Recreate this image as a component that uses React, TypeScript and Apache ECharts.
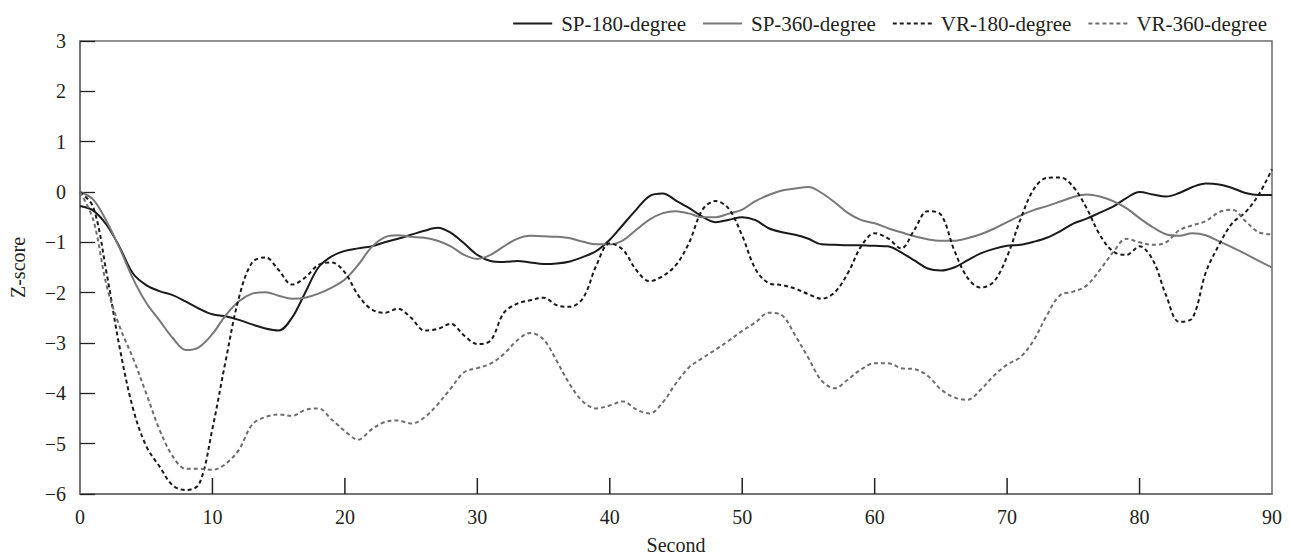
import React, { useEffect, useRef } from "react";
import * as echarts from "echarts";

const seconds: number[] = Array.from({ length: 91 }, (_, i) => i);
const xTickValues: number[] = [10, 20, 30, 40, 50, 60, 70, 80];

const sp180: number[] = [
  -0.28, -0.37, -0.65, -1.1, -1.62, -1.85, -1.97, -2.05, -2.18, -2.32,
  -2.43, -2.47, -2.54, -2.63, -2.71, -2.75, -2.5, -2.0, -1.5, -1.28,
  -1.17, -1.12, -1.08, -1.0, -0.93, -0.85, -0.77, -0.71, -0.81, -1.02,
  -1.25, -1.37, -1.39, -1.37, -1.4, -1.43, -1.42, -1.38, -1.29, -1.17,
  -0.95, -0.65, -0.35, -0.08, -0.03, -0.17, -0.32, -0.49, -0.6, -0.55,
  -0.5, -0.56, -0.72, -0.8, -0.85, -0.93, -1.04, -1.05, -1.06, -1.06,
  -1.07, -1.08, -1.2, -1.36, -1.52, -1.56, -1.5, -1.36, -1.22, -1.13,
  -1.07, -1.05, -0.99, -0.91, -0.78, -0.63, -0.53, -0.41, -0.29, -0.12,
  0.0, -0.05, -0.09, -0.02, 0.1, 0.17, 0.15, 0.08, -0.02, -0.06, -0.06,
];

const sp360: number[] = [
  0, -0.15, -0.58, -1.12, -1.72, -2.2, -2.55, -2.9, -3.14, -3.08,
  -2.82, -2.45, -2.17, -2.02, -1.99, -2.06, -2.12, -2.1, -2.02, -1.9,
  -1.74, -1.45, -1.1, -0.9, -0.86, -0.89, -0.91, -0.97, -1.08, -1.25,
  -1.33, -1.25, -1.08, -0.93, -0.87, -0.88, -0.89, -0.92, -0.99, -1.04,
  -1.04, -0.96, -0.75, -0.55, -0.42, -0.38, -0.43, -0.5, -0.5, -0.43,
  -0.35, -0.18, -0.06, 0.03, 0.07, 0.1, -0.02, -0.21, -0.42, -0.56,
  -0.62, -0.72, -0.8, -0.88, -0.94, -0.97, -0.97, -0.92, -0.84, -0.73,
  -0.6, -0.47, -0.36, -0.28, -0.19, -0.1, -0.05, -0.09, -0.18, -0.32,
  -0.52, -0.7, -0.84, -0.87, -0.82, -0.86, -0.98, -1.1, -1.23, -1.37, -1.5,
];

const vr180: number[] = [
  0, -0.3, -1.6, -3.1, -4.3, -5.05, -5.45, -5.83, -5.92, -5.8,
  -4.7, -3.35, -2.1, -1.4, -1.3, -1.55, -1.84, -1.7, -1.45, -1.4,
  -1.6, -2.05, -2.33, -2.4, -2.32, -2.5, -2.75, -2.72, -2.62, -2.85,
  -3.02, -2.95, -2.4, -2.22, -2.15, -2.1, -2.25, -2.28, -2.1, -1.45,
  -1.02, -1.15, -1.55, -1.77, -1.67, -1.45, -1.0, -0.35, -0.18, -0.34,
  -0.87, -1.53, -1.81, -1.85, -1.92, -2.03, -2.12, -1.99, -1.6, -1.07,
  -0.82, -0.92, -1.12, -0.75, -0.38, -0.45, -1.15, -1.7, -1.9, -1.78,
  -1.28, -0.55, 0.05, 0.28, 0.29, 0.1, -0.32, -0.85, -1.18, -1.25,
  -1.08, -1.35, -2.05, -2.58, -2.5, -1.6, -1.05, -0.62, -0.4, -0.05, 0.45,
];

const vr360: number[] = [
  0, -0.55, -1.85, -2.68, -3.3, -4.0, -4.72, -5.25, -5.5, -5.5,
  -5.52, -5.4, -5.12, -4.62, -4.47, -4.42, -4.45, -4.33, -4.3, -4.52,
  -4.75, -4.92, -4.72, -4.57, -4.54, -4.6, -4.48, -4.22, -3.9, -3.58,
  -3.5, -3.41, -3.22, -2.95, -2.8, -2.93, -3.36, -3.83, -4.17, -4.3,
  -4.24, -4.16, -4.32, -4.4, -4.18, -3.8, -3.48, -3.3, -3.13, -2.95,
  -2.76, -2.59, -2.4, -2.45, -2.85, -3.3, -3.75, -3.9, -3.72, -3.52,
  -3.4, -3.4, -3.5, -3.52, -3.65, -3.92, -4.08, -4.13, -3.93, -3.65,
  -3.43, -3.28, -2.95, -2.45, -2.05, -1.98, -1.86, -1.55, -1.2, -0.93,
  -1.0, -1.05, -1.0, -0.76, -0.66, -0.58, -0.4, -0.35, -0.58, -0.8, -0.84,
];

const seriesNames = ["SP-180-degree", "SP-360-degree", "VR-180-degree", "VR-360-degree"];

const FONT = "'Liberation Serif', 'Times New Roman', serif";
const TEXT = "#231f20";
const AXIS = "#6b6b6b";
const Y_MIN = -6;

export default function App() {
  const ref = useRef<HTMLDivElement>(null);
  useEffect(() => {
    document.body.style.margin = "0";
    if (!ref.current) return;
    const chart = echarts.init(ref.current, undefined, { renderer: "svg" });
    const pair = (arr: number[]) => seconds.map((s, i) => [s, arr[i]]);
    const mk = (name: string, arr: number[], color: string, dashed: boolean) => ({
      name,
      type: "line",
      data: pair(arr),
      smooth: 0.35,
      symbol: "none",
      lineStyle: { color, width: 2, type: dashed ? [4, 3] : "solid" },
      itemStyle: { color },
    });
    chart.setOption({
      animation: false,
      backgroundColor: "#ffffff",
      textStyle: { fontFamily: FONT, color: TEXT },
      legend: {
        right: 18,
        top: 8,
        itemWidth: 39,
        itemHeight: 2,
        itemGap: 16,
        itemStyle: { opacity: 0, borderWidth: 0 },
        textStyle: { fontFamily: FONT, fontSize: 21, color: TEXT, padding: [0, 0, 0, 4] },
        data: seriesNames,
      },
      grid: {
        left: 76,
        right: 18,
        top: 41,
        bottom: 64,
        show: true,
        backgroundColor: "transparent",
        borderColor: AXIS,
        borderWidth: 1.5,
        containLabel: false,
      },
      xAxis: {
        type: "value",
        position: "bottom",
        min: 0,
        max: 90,
        interval: 10,
        name: "Second",
        nameLocation: "middle",
        nameGap: 41,
        nameTextStyle: { fontFamily: FONT, fontSize: 20, color: TEXT },
        axisLine: { show: true, onZero: false, lineStyle: { color: AXIS, width: 1.5 } },
        axisTick: { show: false },
        axisLabel: { fontFamily: FONT, fontSize: 20, color: TEXT, margin: 13 },
        splitLine: { show: false },
      },
      yAxis: {
        type: "value",
        min: Y_MIN,
        max: 3,
        interval: 1,
        name: "Z-score",
        nameLocation: "middle",
        nameGap: 52,
        nameTextStyle: { fontFamily: FONT, fontSize: 20, color: TEXT },
        axisLine: { show: true, onZero: false, lineStyle: { color: AXIS, width: 1.5 } },
        axisTick: { show: true, inside: true, length: 15, lineStyle: { color: "#222", width: 1.3 } },
        axisLabel: {
          fontFamily: FONT,
          fontSize: 20,
          color: TEXT,
          margin: 14,
          formatter: (v: number) => (v < 0 ? "\u2212" + Math.abs(v) : String(v)),
        },
        splitLine: { show: false },
      },
      series: [
        mk(seriesNames[0], sp180, "#1a1a1a", false),
        mk(seriesNames[1], sp360, "#787878", false),
        mk(seriesNames[2], vr180, "#1a1a1a", true),
        mk(seriesNames[3], vr360, "#6e6e6e", true),
        {
          name: "xTicks",
          type: "custom",
          silent: true,
          z: 10,
          clip: false,
          data: xTickValues.map((v) => [v, Y_MIN]),
          renderItem: (_params: any, api: any) => {
            const p = api.coord([api.value(0), api.value(1)]);
            return {
              type: "rect",
              shape: { x: p[0] - 0.75, y: p[1] - 16, width: 1.5, height: 16 },
              style: { fill: "#222" },
            };
          },
        },
      ],
    });
    return () => chart.dispose();
  }, []);
  return <div ref={ref} style={{ width: 1290, height: 560 }} />;
}
